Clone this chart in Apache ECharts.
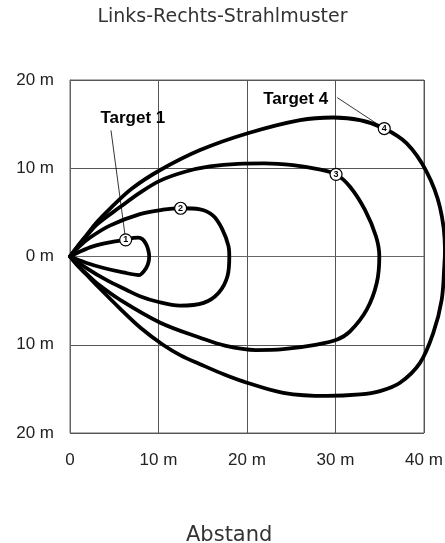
<!DOCTYPE html>
<html>
<head>
<meta charset="utf-8">
<script src="https://cdn.jsdelivr.net/npm/echarts@6/dist/echarts.min.js"></script>
<style>
  html, body { margin: 0; padding: 0; background: #fff; overflow: hidden; }
  #chart { position: absolute; left: 0; top: 0; width: 445px; height: 543px; }
</style>
</head>
<body>
<div id="chart"></div>
<script>
// beam pattern outlines, [distance m, lateral m], closed loops from the sensor
var target1 = [[0,0],[1.2,0.6],[2.6,1.15],[4.5,1.6],[6.3,1.9],[7.2,2.1],[7.7,2.15],[8.2,1.95],[8.6,1.4],[8.85,0.7],[8.95,0],
    [8.8,-0.9],[8.4,-1.6],[7.8,-2.1],[6.0,-1.8],[3.8,-1.3],[1.8,-0.7],[0,0]];
var target2 = [[0,0],[1,1.1],[2.2,2.1],[4.5,3.5],[7.9,4.8],[10.5,5.3],[12.5,5.47],[14.7,5.35],[16.2,4.6],[17.2,3.1],[17.9,1.2],[18.0,0],
    [17.8,-2.2],[16.8,-4.1],[15.1,-5.25],[12.4,-5.57],[9.8,-5.1],[7.9,-4.5],[6.4,-3.8],[4,-2.6],[2,-1.4],[0,0]];
var target3 = [[0,0],[1.0,1.3],[1.9,2.35],[3,3.6],[5.65,5.6],[8,7.3],[10.2,8.6],[13,9.6],[15.8,10.2],[19,10.5],[22,10.55],[25.2,10.35],[28,9.9],
    [30.06,9.31],[31.64,7.91],[33.33,5.28],[34.58,2.26],[34.95,0],[34.66,-3.0],[33.53,-6.02],[31.64,-8.49],[30.2,-9.41],
    [27.9,-9.98],[24.1,-10.5],[21,-10.6],[17.5,-10.1],[14.7,-9.2],[10.2,-7.5],[5.65,-4.9],[3,-3.0],[1.9,-2.0],[1.0,-1.1],[0,0]];
var target4 = [[0,0],[1.0,1.35],[1.88,2.45],[3,3.85],[4.5,5.4],[7,7.7],[10.2,9.8],[14.7,12.06],[20,13.94],[26,15.45],[29.75,15.75],
    [32.77,15.45],[35.51,14.5],[38.05,12.81],[40.3,9.6],[41.8,5.6],[42.37,0.76],[42.3,-1],[42.0,-4.9],[41.05,-8.66],[39.55,-12.05],
    [37.29,-14.3],[35.03,-15.25],[32.77,-15.63],[29.0,-15.8],[24.1,-15.44],[20,-14.3],[17.5,-13.4],[14.7,-12.2],[12.5,-11.2],
    [10.5,-10.0],[8,-8.1],[5.65,-5.9],[3,-3.25],[1.9,-2.1],[1.0,-1.2],[0,0]];

// numbered markers on the outlines
var markerPoints = [[6.29,1.89],[12.5,5.47],[30.06,9.31],[35.51,14.5]];
var markerNames = ['1','2','3','4'];

// callouts: text position, leader start, leader end
var calloutNames = ['Target 1','Target 4'];
var calloutText = [[7.1,15.65],[25.5,17.8]];
var leader1 = [[4.63,14.3],[6.29,1.89]];
var leader4 = [[30.2,18.0],[35.51,14.5]];

var xTicks = [0, 10, 20, 30, 40];
var yTicks = [-20, -10, 0, 10, 20];

// plot box; the curves sit in a wider copy of it so outline 4 can run past 40 m
var W = 445, gLeft = 70, gRight = 21, gTop = 80, gBottom = 110, wideRight = -10;
var xMax = xTicks[xTicks.length - 1];
var xMaxWide = xMax * (W - gLeft - wideRight) / (W - gLeft - gRight);

var chart = echarts.init(document.getElementById('chart'));

function outline(data) {
    return {
        type: 'line',
        xAxisIndex: 1, yAxisIndex: 1,
        data: data,
        smooth: 0.35,
        symbol: 'none',
        clip: false,
        silent: true,
        lineStyle: { color: '#000', width: 3.8, join: 'round', cap: 'round' },
        z: 3
    };
}

function leader(data) {
    return {
        type: 'line',
        xAxisIndex: 1, yAxisIndex: 1,
        data: data,
        symbol: 'none',
        silent: true,
        lineStyle: { color: '#000', width: 0.8 },
        z: 2
    };
}

var option = {
    animation: false,
    title: [{
        text: 'Links-Rechts-Strahlmuster',
        left: 'center',
        top: 3,
        textStyle: { fontFamily: 'DejaVu Sans', fontSize: 19, fontWeight: 'normal', color: '#333' }
    }, {
        text: 'Abstand',
        left: 181,
        top: 520,
        textStyle: { fontFamily: 'DejaVu Sans', fontSize: 21, fontWeight: 'normal', color: '#333' }
    }],
    grid: [{
        left: gLeft, right: gRight, top: gTop, bottom: gBottom,
        outerBoundsMode: 'none',
        show: true, borderColor: '#666', borderWidth: 1
    }, {
        left: gLeft, right: wideRight, top: gTop, bottom: gBottom,
        outerBoundsMode: 'none'
    }],
    xAxis: [{
        type: 'value',
        gridIndex: 0,
        min: xTicks[0], max: xMax, interval: 10,
        axisLine: { lineStyle: { color: '#666', width: 1 } },
        axisTick: { show: false },
        axisLabel: {
            margin: 19,
            fontFamily: 'Liberation Sans', fontSize: 17, color: '#222',
            formatter: function (v) { return v === 0 ? '0' : v + ' m'; }
        },
        splitLine: { lineStyle: { color: '#555', width: 1 } }
    }, {
        type: 'value',
        gridIndex: 1,
        min: 0, max: xMaxWide,
        show: false,
        splitLine: { show: false }
    }],
    yAxis: [{
        type: 'value',
        gridIndex: 0,
        min: yTicks[0], max: yTicks[yTicks.length - 1], interval: 10,
        axisLine: { show: true, lineStyle: { color: '#666', width: 1 } },
        axisTick: { show: false },
        axisLabel: {
            margin: 16,
            fontFamily: 'Liberation Sans', fontSize: 17, color: '#222',
            formatter: function (v) { return Math.abs(v) + ' m'; }
        },
        splitLine: { lineStyle: { color: '#555', width: 1 } }
    }, {
        type: 'value',
        gridIndex: 1,
        min: yTicks[0], max: yTicks[yTicks.length - 1],
        show: false,
        splitLine: { show: false }
    }],
    series: [
        outline(target1),
        outline(target2),
        outline(target3),
        outline(target4),
        leader(leader1),
        leader(leader4),
        {
            type: 'scatter',
            xAxisIndex: 1, yAxisIndex: 1,
            data: markerPoints.map(function (p, i) { return { value: p, name: markerNames[i] }; }),
            symbol: 'circle',
            symbolSize: 12,
            silent: true,
            itemStyle: { color: '#fff', borderColor: '#000', borderWidth: 1.2, opacity: 1 },
            label: {
                show: true, position: 'inside',
                formatter: '{b}',
                fontFamily: 'Liberation Sans', fontSize: 9, fontWeight: 'bold', color: '#000'
            },
            z: 5
        },
        {
            type: 'scatter',
            xAxisIndex: 1, yAxisIndex: 1,
            data: calloutText.map(function (p, i) { return { value: p, name: calloutNames[i] }; }),
            symbolSize: 1,
            silent: true,
            itemStyle: { color: 'rgba(0,0,0,0)', opacity: 1 },
            label: {
                show: true, position: 'inside',
                formatter: '{b}',
                fontFamily: 'Liberation Sans', fontSize: 17, fontWeight: 'bold', color: '#000'
            },
            z: 6
        }
    ]
};

chart.setOption(option);
</script>
</body>
</html>
